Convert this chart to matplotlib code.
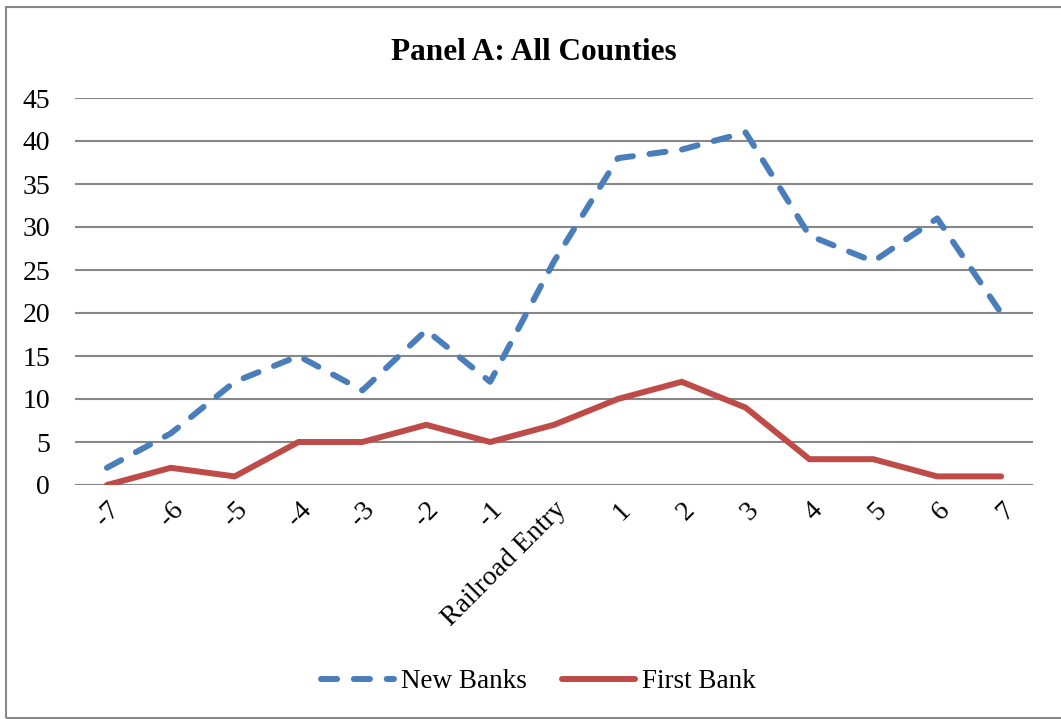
import matplotlib
matplotlib.use("Agg")
import matplotlib.pyplot as plt
from matplotlib.patches import Rectangle

plt.rcParams['font.family'] = ['Liberation Serif', 'DejaVu Serif']

categories = ["-7", "-6", "-5", "-4", "-3", "-2", "-1", "Railroad Entry",
              "1", "2", "3", "4", "5", "6", "7"]
new_banks = [2, 6, 12, 15, 11, 18, 12, 26, 38, 39, 41, 29, 26, 31, 20]
first_bank = [0, 2, 1, 5, 5, 7, 5, 7, 10, 12, 9, 3, 3, 1, 1]
yticks = [0, 5, 10, 15, 20, 25, 30, 35, 40, 45]

W, H = 1061, 719
fig = plt.figure(figsize=(W/100, H/100), dpi=100)
ax = fig.add_axes([75/W, 1-485/H, (1033-75)/W, (485-98)/H])

x = list(range(len(categories)))
blue = '#4A7EBB'
red = '#BE4B48'
l1, = ax.plot(x, new_banks, color=blue, lw=4.3, label='New Banks',
              dash_capstyle='round', solid_capstyle='round')
l1.set_dashes((2.7, 2.8))
l2, = ax.plot(x, first_bank, color=red, lw=4.3, label='First Bank',
              solid_capstyle='round', solid_joinstyle='miter')

ax.set_xlim(-0.5, len(categories)-0.5)
ax.set_ylim(0, 45)
ax.set_yticks(yticks)
ax.set_xticks(x)
ax.set_xticklabels(categories, rotation=45, ha='right', va='top',
                   rotation_mode='anchor')
ax.tick_params(axis='both', length=0, labelsize=20, colors='black')
ax.tick_params(axis='x', pad=9)
ax.tick_params(axis='y', pad=18)
ax.grid(axis='y', color='#878787', lw=1.5)
ax.set_axisbelow(True)
for s in ax.spines.values():
    s.set_visible(False)

fig.text(534/W, 1-60/H, 'Panel A: All Counties', ha='center', va='baseline',
         fontsize=22.5, fontweight='bold')

leg = fig.legend(handles=[l1, l2], loc='center', bbox_to_anchor=(538/W, 1-682/H),
                 ncol=2, frameon=False, fontsize=19.5, handlelength=2.7,
                 handletextpad=0.25, columnspacing=1.3)

fig.add_artist(Rectangle((5.5/W, 1.5/H), 1.2, 1-8.5/H, transform=fig.transFigure,
                         fill=False, edgecolor='#888888', lw=1.5))

fig.savefig('out.png', dpi=100)
